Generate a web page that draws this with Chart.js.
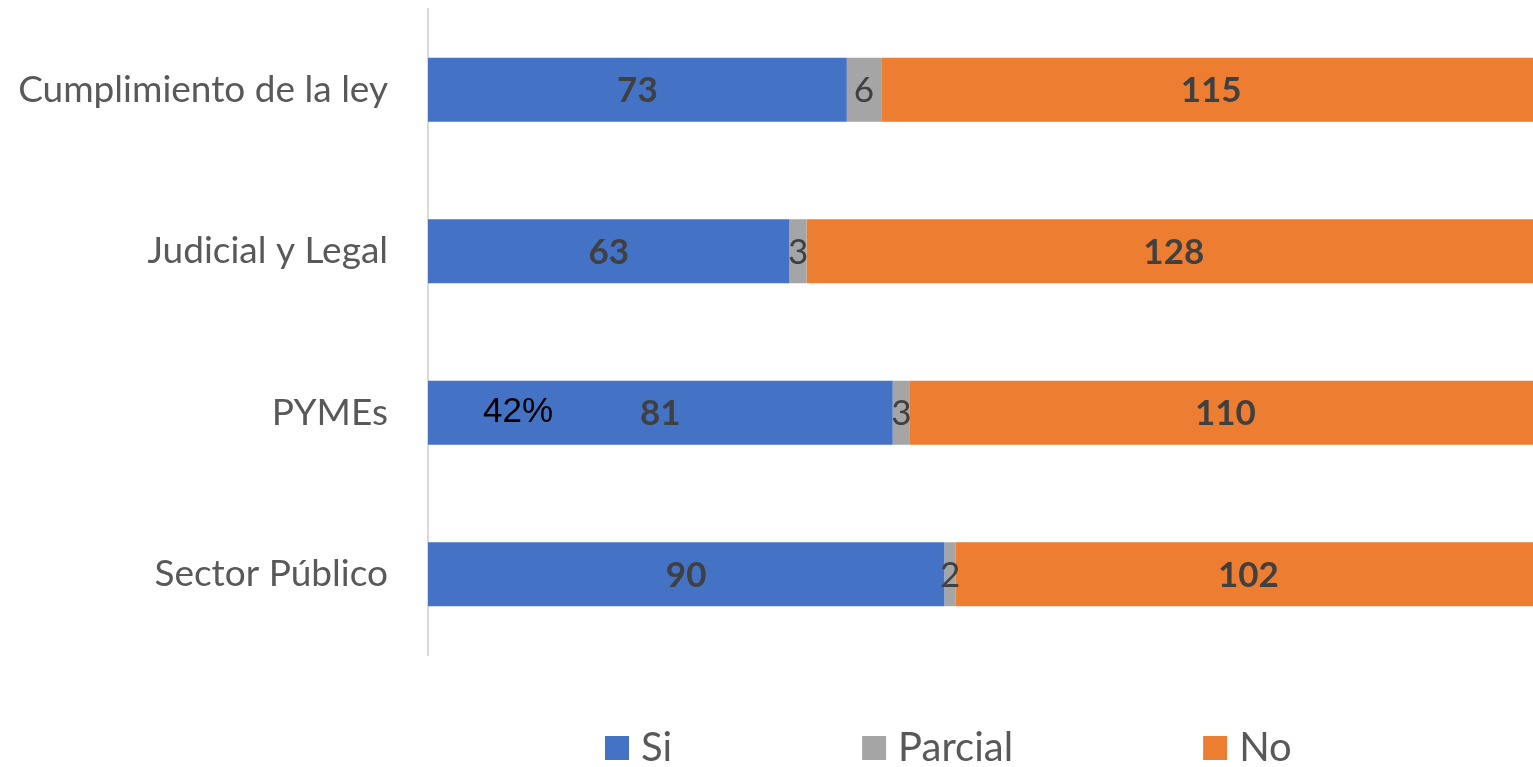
<!DOCTYPE html>
<html>
<head>
<meta charset="utf-8">
<script src="https://cdn.jsdelivr.net/npm/chart.js@4"></script>
<style>
  html, body { margin: 0; padding: 0; background: #fff; overflow: hidden; }
  #wrap { width: 1541px; height: 767px; }
</style>
</head>
<body>
<div id="wrap"><canvas id="barChart" width="1541" height="767"></canvas></div>
<script>
  // datos del gráfico
  const categorias = ['Cumplimiento de la ley', 'Judicial y Legal', 'PYMEs', 'Sector Público'];
  const si = [73, 63, 81, 90];
  const parcial = [6, 3, 3, 2];
  const no = [115, 128, 110, 102];
  const nota = '42%';

  const azul = '#4472C4', gris = '#A5A5A5', naranja = '#ED7D31';
  const fuente = 'Lato, "Open Sans", sans-serif';

  const totales = si.map((v, i) => v + parcial[i] + no[i]);

  // etiquetas dentro de cada segmento
  const etiquetas = {
    id: 'etiquetas',
    afterDatasetsDraw(chart) {
      const ctx = chart.ctx;
      ctx.save();
      ctx.textAlign = 'center';
      ctx.textBaseline = 'middle';
      chart.data.datasets.forEach((ds, d) => {
        const meta = chart.getDatasetMeta(d);
        meta.data.forEach((bar, i) => {
          const x = (bar.x + bar.base) / 2;
          ctx.fillStyle = '#404040';
          ctx.font = (d === 1 ? '' : 'bold ') + '35px ' + fuente;
          ctx.fillText(ds.data[i], x, bar.y + 1);
        });
      });
      // nota suelta sobre PYMEs
      const b = chart.getDatasetMeta(0).data[2];
      ctx.fillStyle = '#000';
      ctx.font = '35px "Liberation Sans", Arial, sans-serif';
      ctx.fillText(nota, b.base + 90, b.y);
      ctx.restore();
    }
  };

  // leyenda dibujada a mano
  const leyenda = {
    id: 'leyenda',
    afterDraw(chart) {
      const ctx = chart.ctx;
      const y = 748;
      let x = 605;
      ctx.save();
      ctx.font = '40px ' + fuente;
      ctx.textBaseline = 'middle';
      chart.data.datasets.forEach(ds => {
        ctx.fillStyle = ds.backgroundColor;
        ctx.fillRect(x, y - 12, 24, 24);
        ctx.fillStyle = '#595959';
        ctx.fillText(ds.label, x + 36, y);
        x += 36 + ctx.measureText(ds.label).width + 190;
      });
      ctx.restore();
    }
  };

  const ctx = document.getElementById('barChart').getContext('2d');
  new Chart(ctx, {
    type: 'bar',
    data: {
      labels: categorias,
      datasets: [
        { label: 'Si', data: si, backgroundColor: azul },
        { label: 'Parcial', data: parcial, backgroundColor: gris },
        { label: 'No', data: no, backgroundColor: naranja }
      ]
    },
    options: {
      indexAxis: 'y',
      responsive: false,
      animation: false,
      layout: { padding: { top: 9, bottom: 112, left: 0, right: 0 } },
      datasets: { bar: { categoryPercentage: 1, barPercentage: 0.396, borderWidth: 0 } },
      scales: {
        x: { stacked: true, display: false, min: 0, max: Math.max(...totales) },
        y: {
          stacked: true,
          afterFit: s => { s.width = 428; s.paddingTop = 0; s.paddingBottom = 0; },
          grid: { display: false, drawTicks: false },
          border: { display: true, color: '#D9D9D9', width: 2 },
          ticks: { color: '#595959', padding: 40, font: { family: fuente, size: 37 } }
        }
      },
      plugins: {
        legend: { display: false },
        tooltip: { enabled: false }
      }
    },
    plugins: [etiquetas, leyenda]
  });
</script>
</body>
</html>
